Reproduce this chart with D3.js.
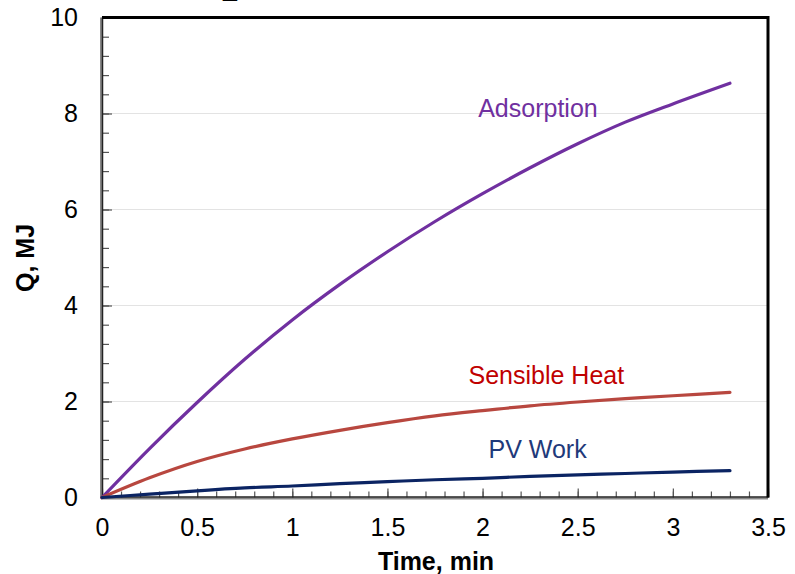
<!DOCTYPE html>
<html>
<head>
<meta charset="utf-8">
<script src="https://cdn.jsdelivr.net/npm/d3@7"></script>
<style>
  body { margin: 0; background: #fff; }
  text { font-family: "Liberation Sans", Arial, sans-serif; }
</style>
</head>
<body>
<div class="chart"></div>
<script>
// values
var time = [0, 0.25, 0.5, 0.75, 1.0, 1.25, 1.5, 1.75, 2.0, 2.25, 2.5, 2.75, 3.0, 3.3];
var adsorption = [0, 1.02, 1.98, 2.88, 3.70, 4.44, 5.12, 5.75, 6.33, 6.87, 7.37, 7.82, 8.20, 8.63];
var sensibleHeat = [0, 0.41, 0.75, 1.01, 1.22, 1.40, 1.56, 1.70, 1.81, 1.91, 1.99, 2.06, 2.12, 2.19];
var pvWork = [0, 0.07, 0.14, 0.20, 0.24, 0.29, 0.33, 0.37, 0.40, 0.44, 0.47, 0.50, 0.53, 0.56];

var seriesNames = ["Adsorption", "Sensible Heat", "PV Work"];
var labelTime = [1.977, 1.926, 2.031];
var labelQ = [7.92, 2.36, 0.82];

var xTicks = [0, 0.5, 1, 1.5, 2, 2.5, 3, 3.5];
var yTicks = [0, 2, 4, 6, 8, 10];

var svgWidth = 795;
var svgHeight = 574;

var margin = {
    top: 17.5,
    right: 27,
    bottom: 76.5,
    left: 102
}

var width = svgWidth - margin.left - margin.right;
var height = svgHeight - margin.top - margin.bottom;

var lineColors = ["#7030A0", "#B8473F", "#0B2463"];
var textColors = ["#7030A0", "#C00000", "#1F3A7A"];

var svg = d3.select(".chart")
    .append("svg")
    .attr("width", svgWidth).attr("height", svgHeight)

// clipped title remnant at the very top
svg.append("text")
    .attr("x", 223).attr("y", -4)
    .style("font-size", "25px")
    .text("_")

var chartGroup = svg.append("g")
    .attr("transform", `translate(${margin.left}, ${margin.top})`);

var xLinearScale = d3.scaleLinear().domain([0, 3.5]).range([0, width])
var yLinearScale = d3.scaleLinear().domain([0, 10]).range([height, 0])

// light horizontal gridlines
chartGroup.selectAll(".grid")
    .data(yTicks.filter(d => d > 0 && d < 10))
    .enter()
    .append("line")
    .attr("x1", 0).attr("x2", width)
    .attr("y1", d => yLinearScale(d)).attr("y2", d => yLinearScale(d))
    .attr("stroke", "#e3e3e3")
    .attr("stroke-width", 1)

// minor ticks
chartGroup.append("g")
    .attr("transform", `translate(0, ${height})`)
    .call(d3.axisBottom(xLinearScale).tickValues(d3.range(0, 3.501, 0.1)).tickSize(-6).tickFormat(""))
chartGroup.append("g")
    .call(d3.axisLeft(yLinearScale).tickValues(d3.range(0, 10.01, 0.4)).tickSize(-7).tickFormat(""))

// major ticks and labels
chartGroup.append("g")
    .attr("transform", `translate(0, ${height})`)
    .call(d3.axisBottom(xLinearScale).tickValues(xTicks).tickSize(-9).tickPadding(21).tickFormat(d3.format("")))
chartGroup.append("g")
    .call(d3.axisLeft(yLinearScale).tickValues(yTicks).tickSize(-10).tickPadding(24).tickFormat(d3.format("")))

chartGroup.selectAll(".domain").remove();
chartGroup.selectAll(".tick line").attr("stroke", "#555").attr("stroke-width", 1.2);
chartGroup.selectAll(".tick text")
    .attr("fill", "#000")
    .style("font-size", "25px")
    .style("font-family", "'Liberation Sans', Arial, sans-serif");

// frame: gray left/bottom axes, black top/right border
chartGroup.append("line")
    .attr("x1", -1).attr("x2", -1).attr("y1", 0).attr("y2", height + 1)
    .attr("stroke", "#888").attr("stroke-width", 2)
chartGroup.append("line")
    .attr("x1", -1).attr("x2", width).attr("y1", height + 1).attr("y2", height + 1)
    .attr("stroke", "#888").attr("stroke-width", 2)
chartGroup.append("line")
    .attr("x1", 0.5).attr("x2", 0.5).attr("y1", 0).attr("y2", height)
    .attr("stroke", "#222").attr("stroke-width", 1.5)
chartGroup.append("line")
    .attr("x1", 0).attr("x2", width).attr("y1", height - 0.5).attr("y2", height - 0.5)
    .attr("stroke", "#222").attr("stroke-width", 1.5)
chartGroup.append("path")
    .attr("d", `M0,0H${width}V${height}`)
    .attr("fill", "none")
    .attr("stroke", "#000").attr("stroke-width", 3)

// curves
var series = [adsorption, sensibleHeat, pvWork];
var line = d3.line()
    .x((d, i) => xLinearScale(time[i]))
    .y(d => yLinearScale(d))
    .curve(d3.curveCatmullRom.alpha(0.5))

chartGroup.selectAll(".curve")
    .data(series)
    .enter()
    .append("path")
    .attr("d", d => line(d))
    .attr("fill", "none")
    .attr("stroke", (d, i) => lineColors[i])
    .attr("stroke-width", 3.2)
    .attr("stroke-linecap", "round")

chartGroup.selectAll(".label")
    .data(seriesNames)
    .enter()
    .append("text")
    .attr("x", (d, i) => xLinearScale(labelTime[i]))
    .attr("y", (d, i) => yLinearScale(labelQ[i]))
    .attr("fill", (d, i) => textColors[i])
    .style("font-size", "25px")
    .text(d => d)

// axis titles
svg.append("text")
    .attr("transform", "translate(33.5, 258) rotate(-90)")
    .attr("text-anchor", "middle")
    .style("font-size", "25px")
    .style("font-weight", "bold")
    .text("Q, MJ")

svg.append("text")
    .attr("x", margin.left + width / 2 + 1)
    .attr("y", 570)
    .attr("text-anchor", "middle")
    .style("font-size", "25px")
    .style("font-weight", "bold")
    .text("Time, min")
</script>
</body>
</html>
